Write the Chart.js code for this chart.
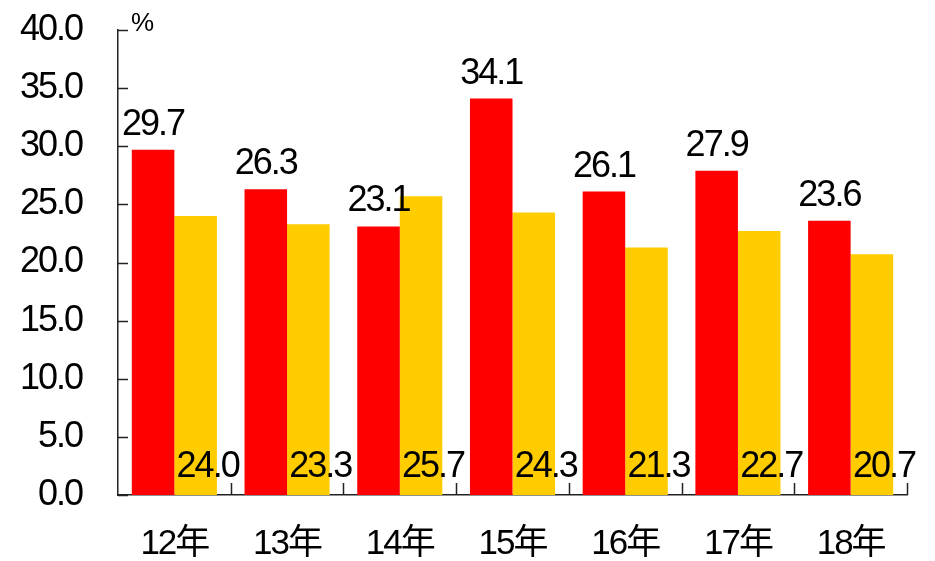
<!DOCTYPE html>
<html>
<head>
<meta charset="utf-8">
<script src="https://cdn.jsdelivr.net/npm/chart.js@4"></script>
<style>
  html, body { margin: 0; padding: 0; background: #fff; }
  #wrap { width: 935px; height: 561px; }
</style>
</head>
<body>
<div id="wrap"><canvas id="chart" width="935" height="561"></canvas></div>
<script>
const categories = ['12年', '13年', '14年', '15年', '16年', '17年', '18年'];
const redValues = [29.7, 26.3, 23.1, 34.1, 26.1, 27.9, 23.6];
const yellowValues = [24.0, 23.3, 25.7, 24.3, 21.3, 22.7, 20.7];
const unitLabel = '%';

const FONT = '"Liberation Sans", Arial, "Noto Sans CJK SC", sans-serif';

// inner tick marks, value labels and unit text
const extras = {
  id: 'extras',
  beforeDraw(chart) {
    chart.ctx.letterSpacing = '-2px';
  },
  afterDatasetsDraw(chart) {
    const ctx = chart.ctx;
    const area = chart.chartArea;
    const y = chart.scales.y;
    ctx.save();
    ctx.strokeStyle = '#222';
    ctx.lineWidth = 1.5;
    // y ticks pointing right
    y.ticks.forEach((t) => {
      const py = Math.round(y.getPixelForValue(t.value)) + 0.5;
      ctx.beginPath();
      ctx.moveTo(area.left, py);
      ctx.lineTo(area.left + 10, py);
      ctx.stroke();
    });
    // x ticks between categories pointing up
    const step = (area.right - area.left) / categories.length;
    for (let i = 1; i <= categories.length; i++) {
      const px = Math.round(area.left + step * i) + 0.5;
      ctx.beginPath();
      ctx.moveTo(px, area.bottom);
      ctx.lineTo(px, area.bottom - 12);
      ctx.stroke();
    }
    ctx.fillStyle = '#000';
    ctx.font = '36px ' + FONT;
    ctx.letterSpacing = '-2px';
    ctx.textAlign = 'center';
    ctx.textBaseline = 'alphabetic';
    chart.getDatasetMeta(0).data.forEach((bar, i) => {
      ctx.fillText(redValues[i].toFixed(1), bar.x, bar.y - 15);
    });
    chart.getDatasetMeta(1).data.forEach((bar, i) => {
      ctx.fillText(yellowValues[i].toFixed(1), bar.x + 12, y.getPixelForValue(0) - 18);
    });
    ctx.font = '26px ' + FONT;
    ctx.letterSpacing = '0px';
    ctx.textAlign = 'left';
    ctx.fillText(unitLabel, area.left + 13, 31);
    ctx.restore();
  }
};

new Chart(document.getElementById('chart'), {
  type: 'bar',
  data: {
    labels: categories,
    datasets: [
      { data: redValues, backgroundColor: '#FF0000', categoryPercentage: 0.755, barPercentage: 1.0 },
      { data: yellowValues, backgroundColor: '#FFCC00', categoryPercentage: 0.755, barPercentage: 1.0 }
    ]
  },
  options: {
    responsive: false,
    animation: false,
    events: [],
    layout: { autoPadding: false, padding: { top: 30, right: 28, left: 0, bottom: 0 } },
    plugins: { legend: { display: false }, tooltip: { enabled: false } },
    scales: {
      x: {
        grid: { display: false, drawTicks: false },
        border: { display: true, color: '#222', width: 1.5 },
        ticks: { color: '#000', font: { size: 35, family: FONT }, padding: 28, maxRotation: 0 },
        afterFit(scale) { scale.height = 66; scale.paddingLeft = 0; scale.paddingRight = 0; }
      },
      y: {
        min: 0,
        max: 40,
        grid: { display: false, drawTicks: false },
        border: { display: true, color: '#222', width: 1.5 },
        ticks: {
          stepSize: 5,
          color: '#000',
          font: { size: 36, family: FONT },
          padding: 36,
          callback: (v) => v.toFixed(1)
        },
        afterFit(scale) { scale.width = 118; scale.paddingTop = 0; scale.paddingBottom = 0; }
      }
    }
  },
  plugins: [extras]
});
</script>
</body>
</html>
